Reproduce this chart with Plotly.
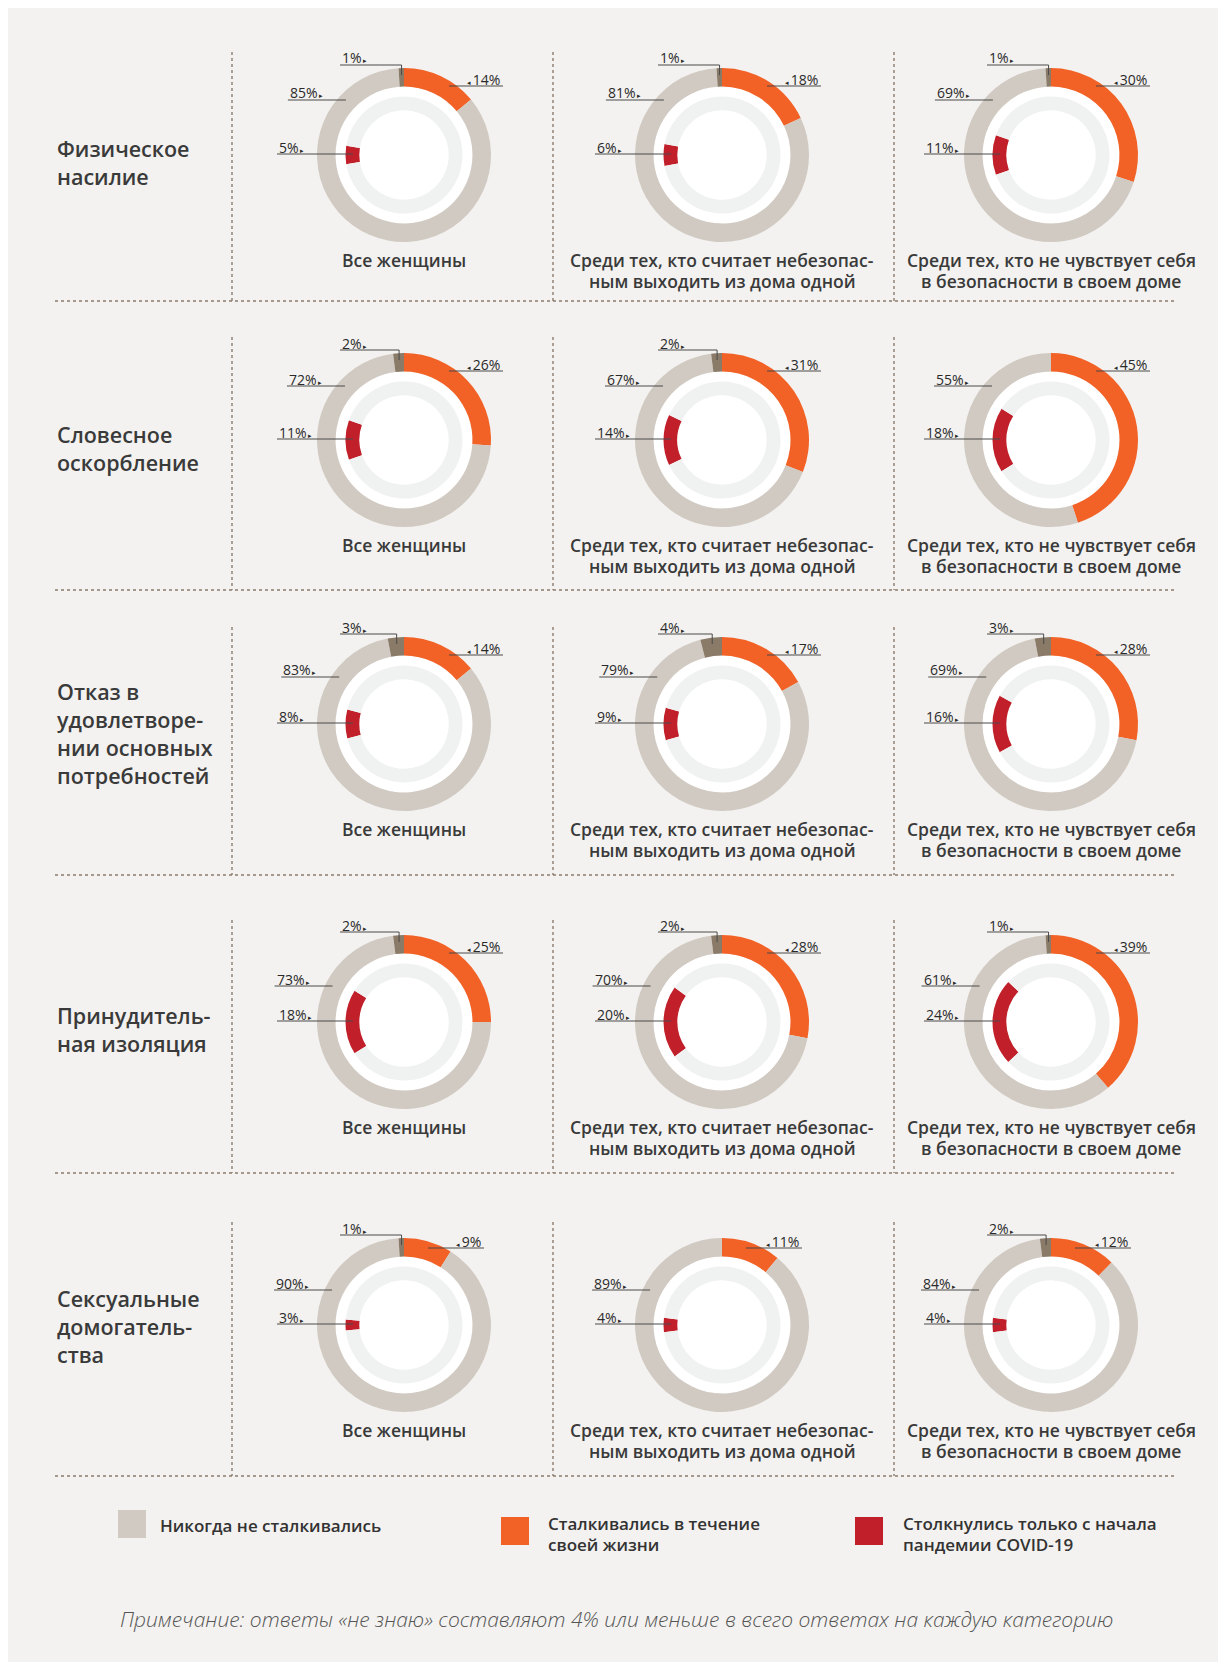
import plotly.graph_objects as go
import math

# ---------------- data ----------------
categories = [
    "Физическое<br>насилие",
    "Словесное<br>оскорбление",
    "Отказ в<br>удовлетворе-<br>нии основных<br>потребностей",
    "Принудитель-<br>ная изоляция",
    "Сексуальные<br>домогатель-<br>ства",
]
groups = [
    "Все женщины",
    "Среди тех, кто считает небезопас-<br>ным выходить из дома одной",
    "Среди тех, кто не чувствует себя<br>в безопасности в своем доме",
]
lifetime = [[14, 18, 30], [26, 31, 45], [14, 17, 28], [25, 28, 39], [9, 11, 12]]
never = [[85, 81, 69], [72, 67, 55], [83, 79, 69], [73, 70, 61], [90, 89, 84]]
dont_know = [[1, 1, 1], [2, 2, 0], [3, 4, 3], [2, 2, 1], [1, 0, 2]]
covid = [[5, 6, 11], [11, 14, 18], [8, 9, 16], [18, 20, 24], [3, 4, 4]]
legend_labels = [
    "Никогда не сталкивались",
    "Сталкивались в течение<br>своей жизни",
    "Столкнулись только с начала<br>пандемии COVID-19",
]
note = "Примечание: ответы «не знаю» составляют 4% или меньше в всего ответах на каждую категорию"

# ---------------- style / layout ----------------
W, H = 1226, 1662
OFF = 8  # page body margin
C_NEVER = "#d1cac2"
C_LIFE = "#f26125"
C_DK = "#8a7a68"
C_COVID = "#c1202a"
C_INNER = "#f0f1f1"
C_BG = "#f3f2f0"
C_SEP = "#8c7b6c"
C_TEXT = "#3a3a3a"
C_LEAD = "#4a4a4a"

CX = [404, 722, 1051]
CY = [155, 440, 724, 1022, 1325]
ROW_LINE = [301, 590, 875, 1173, 1476]
ROW_TOP = [52, 337, 627, 920, 1222]
VLINE_X = [232, 553, 894]
LABEL_Y = [163, 448, 733, 1029, 1326]
GRAY_DY = [-55, -54, -47, -36, -35]
R_OUT, R_OUT_IN = 87, 68.5
R_IN, R_IN_IN = 58.5, 44.7

FONT = "Open Sans, Noto Sans, sans-serif"


def px(x):
    return (x - OFF) / W


def py(y):
    return 1 - (y - OFF) / H


fig = go.Figure()
shapes = []
annotations = []

# separators
for r in range(5):
    shapes.append(dict(type="line", xref="paper", yref="paper", x0=px(55), x1=px(1176),
                       y0=py(ROW_LINE[r]), y1=py(ROW_LINE[r]),
                       line=dict(color=C_SEP, width=1.4, dash="3px,3px")))
    for vx in VLINE_X:
        shapes.append(dict(type="line", xref="paper", yref="paper", x0=px(vx), x1=px(vx),
                           y0=py(ROW_TOP[r]), y1=py(ROW_LINE[r]),
                           line=dict(color=C_SEP, width=1.4, dash="3px,3px")))

pct_font = dict(family=FONT, size=14, color="#2a2a2a")
ARR_R = "<span style='font-size:7px'> ▸</span>"
ARR_L = "<span style='font-size:7px'>◂ </span>"


def lead(x0, y0, x1, y1):
    shapes.append(dict(type="line", xref="paper", yref="paper", x0=px(x0), x1=px(x1),
                       y0=py(y0), y1=py(y1), line=dict(color=C_LEAD, width=1)))


def multiline(text, x, y_first, spacing, xanchor, font):
    for i, line in enumerate(text.split("<br>")):
        annotations.append(dict(xref="paper", yref="paper", x=px(x), y=py(y_first + i * spacing),
                                xanchor=xanchor, yanchor="middle", showarrow=False,
                                text=line, font=font))


for r in range(5):
    cy = CY[r]
    # row label
    annotations.append(dict(xref="paper", yref="paper", x=px(55), y=py(LABEL_Y[r]),
                            xanchor="left", yanchor="middle", align="left", showarrow=False,
                            text=categories[r],
                            font=dict(family=FONT, size=21.5, color=C_TEXT, weight=600)))
    for c in range(3):
        cx = CX[c]
        lt, nv, dk, cv = lifetime[r][c], never[r][c], dont_know[r][c], covid[r][c]
        # white disk
        shapes.append(dict(type="circle", xref="paper", yref="paper",
                           x0=px(cx - R_OUT_IN), x1=px(cx + R_OUT_IN),
                           y0=py(cy + R_OUT_IN), y1=py(cy - R_OUT_IN),
                           fillcolor="white", line=dict(width=0), layer="below"))
        # outer ring
        fig.add_trace(go.Pie(
            values=[lt, nv, dk], marker=dict(colors=[C_LIFE, C_NEVER, C_DK]),
            hole=R_OUT_IN / R_OUT, sort=False, direction="clockwise", rotation=0,
            textinfo="none", hoverinfo="skip", showlegend=False,
            domain=dict(x=[px(cx - R_OUT), px(cx + R_OUT)], y=[py(cy + R_OUT), py(cy - R_OUT)])))
        # inner ring
        fig.add_trace(go.Pie(
            values=[cv, 100 - cv], marker=dict(colors=[C_COVID, C_INNER]),
            hole=R_IN_IN / R_IN, sort=False, direction="clockwise", rotation=270 - cv * 1.8,
            textinfo="none", hoverinfo="skip", showlegend=False,
            domain=dict(x=[px(cx - R_IN), px(cx + R_IN)], y=[py(cy + R_IN), py(cy - R_IN)])))

        # caption
        multiline(groups[c], cx, cy + 105, 20.5, "center",
                  dict(family=FONT, size=17.5, color=C_TEXT, weight=600))

        # dark (don't know) label
        if dk > 0:
            ly = cy - 90
            ex = cx - 78 * math.sin(math.radians(dk * 1.8))
            lead(cx - 64, ly, ex, ly)
            lead(ex, ly, ex, cy - 80)
            annotations.append(dict(xref="paper", yref="paper", x=px(cx - 64), y=py(ly - 7),
                                    xanchor="left", yanchor="middle", showarrow=False,
                                    text=f"{dk}%" + ARR_R, font=pct_font))
        # lifetime label
        if lt >= 14:
            ly, sx, exx = cy - 69, cx + 45, cx + 99
        else:
            ly, sx, exx = cy - 77, cx + 24, cx + 80
        lead(sx, ly, exx, ly)
        annotations.append(dict(xref="paper", yref="paper", x=px(exx - 1), y=py(ly - 7),
                                xanchor="right", yanchor="middle", showarrow=False,
                                text=ARR_L + f"{lt}%", font=pct_font))
        # never label
        gdy = GRAY_DY[r]
        gex = cx - math.sqrt(80 ** 2 - gdy ** 2)
        gsx = gex - 58
        lead(gsx, cy + gdy, gex, cy + gdy)
        annotations.append(dict(xref="paper", yref="paper", x=px(gsx), y=py(cy + gdy - 7),
                                xanchor="left", yanchor="middle", showarrow=False,
                                text=f"{nv}%" + ARR_R, font=pct_font))
        # covid label
        ly = cy - 1
        lead(cx - 127, ly, cx - 51, ly)
        annotations.append(dict(xref="paper", yref="paper", x=px(cx - 127), y=py(ly - 7),
                                xanchor="left", yanchor="middle", showarrow=False,
                                text=f"{cv}%" + ARR_R, font=pct_font))

# legend
leg = [(118, 1510, C_NEVER, 158, 1525), (501, 1517, C_LIFE, 546, 1523), (855, 1517, C_COVID, 901, 1523)]
for (x0, y0, col, tx, ty), lab in zip(leg, legend_labels):
    shapes.append(dict(type="rect", xref="paper", yref="paper", x0=px(x0), x1=px(x0 + 28),
                       y0=py(y0 + 28), y1=py(y0), fillcolor=col, line=dict(width=0)))
    multiline(lab, tx, ty, 21, "left", dict(family=FONT, size=17, color="#333333", weight=600))

annotations.append(dict(xref="paper", yref="paper", x=px(616), y=py(1619), xanchor="center",
                        yanchor="middle", showarrow=False, text=note,
                        font=dict(family=FONT, size=21, color="#555555",
                                  style="italic", weight=300)))

fig.update_layout(width=W, height=H, margin=dict(l=0, r=0, t=0, b=0),
                  paper_bgcolor=C_BG, plot_bgcolor=C_BG,
                  shapes=shapes, annotations=annotations,
                  xaxis=dict(visible=False), yaxis=dict(visible=False))
fig.write_html("out.html")
